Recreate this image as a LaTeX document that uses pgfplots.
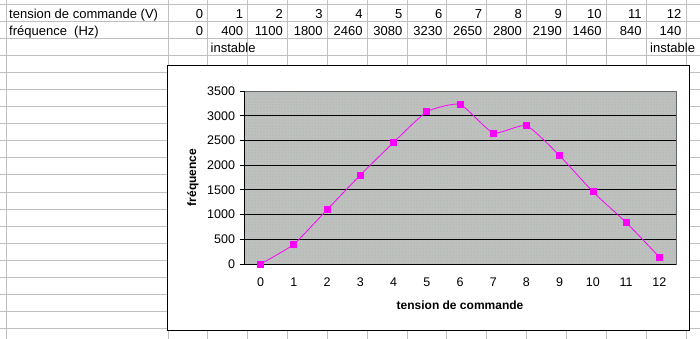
\documentclass[border=0pt]{standalone}
\usepackage{pgfplots}
\pgfplotsset{compat=1.18}
\usetikzlibrary{patterns}
\usepackage{fontspec}
\setmainfont{Liberation Sans}
\definecolor{gridgray}{HTML}{C0C0C0}
\definecolor{plotgray}{HTML}{C0C0C0}
\definecolor{dotgreen}{HTML}{8FB88F}
\definecolor{mag}{HTML}{FF00FF}
\begin{document}
\begin{tikzpicture}
\begin{scope}[x=1pt,y=1pt]
\useasboundingbox (0,0) rectangle (700,339);
% spreadsheet grid
\foreach \k in {0,...,19} {\draw[gridgray, line width=1pt] (0,{339-4.3-17.07*\k}) -- (700,{339-4.3-17.07*\k});}
\foreach \k in {0,...,13} {\draw[gridgray, line width=1pt] ({168+39.85*\k},0) -- ({168+39.85*\k},339);}
\draw[gridgray, line width=1pt] (6.5,0) -- (6.5,339);
% table text
\begin{scope}[every node/.style={inner sep=0pt, font=\fontsize{13}{15}\selectfont}]
\node[anchor=base west] at (9,{339-18.3}) {tension de commande (V)};
\node[anchor=base west] at (9,{339-35.4}) {fréquence\ \ (Hz)};
\foreach \v [count=\i from 0] in {0,1,2,3,4,5,6,7,8,9,10,11,12} {
  \node[anchor=base east] at ({168+39.85*(\i+1)-4.5},{339-18.3}) {\v};
}
\foreach \v [count=\i from 0] in {0,400,1100,1800,2460,3080,3230,2650,2800,2190,1460,840,140} {
  \node[anchor=base east] at ({168+39.85*(\i+1)-4.5},{339-35.4}) {\v};
}
\node[anchor=base west] at (210.5,{339-52.5}) {instable};
\node[anchor=base west] at (650,{339-52.5}) {instable};
\end{scope}
% chart area
\draw[black, fill=white, line width=1pt] (167,{339-66}) rectangle (689,{339-330.5});
\end{scope}
\begin{axis}[
  at={(244pt,75pt)}, anchor=south west,
  scale only axis, width=432pt, height=173pt,
  xmin=-0.5, xmax=12.5, ymin=0, ymax=3500,
  axis background/.style={fill=plotgray, draw=gray!80!black, postaction={pattern=dots, pattern color=dotgreen}},
  axis x line*=bottom, axis y line*=left,
  axis line style={black, line width=0.8pt},
  tick align=outside,
  xtick={0,...,12},
  xtick style={draw=none},
  minor xtick={-0.5,0.5,...,12.5},
  minor tick length=4.5pt,
  minor x tick style={black, line width=0.8pt},
  ytick={0,500,...,3500},
  major tick length=4.5pt,
  ytick style={black, line width=0.8pt},
  extra y ticks={500,1000,...,3000},
  extra y tick labels={},
  extra y tick style={grid=major, major grid style={black, line width=0.9pt}, major tick length=0pt},
  /pgf/number format/assume math mode=true,
  scaled y ticks=false,
  yticklabel style={/pgf/number format/1000 sep={}, font=\fontsize{12.5}{14}\selectfont, xshift=-1pt},
  xticklabel style={font=\fontsize{12.5}{14}\selectfont, yshift=-6pt},
  xlabel={tension de commande},
  ylabel={fréquence},
  every axis x label/.style={at={(axis description cs:0.5,0)}, anchor=center, yshift=-41pt, font=\bfseries\fontsize{12}{14}\selectfont},
  every axis y label/.style={at={(axis description cs:0,0.5)}, anchor=center, rotate=90, yshift=51pt, font=\bfseries\fontsize{12}{14}\selectfont},
  clip=false,
]
\addplot[mag, line width=0.8pt, smooth, tension=0.3, mark=square*, mark size=3pt, mark options={fill=mag, draw=mag}]
  coordinates {(0,0) (1,400) (2,1100) (3,1800) (4,2460) (5,3080) (6,3230) (7,2650) (8,2800) (9,2190) (10,1460) (11,840) (12,140)};
\end{axis}
\end{tikzpicture}
\end{document}
